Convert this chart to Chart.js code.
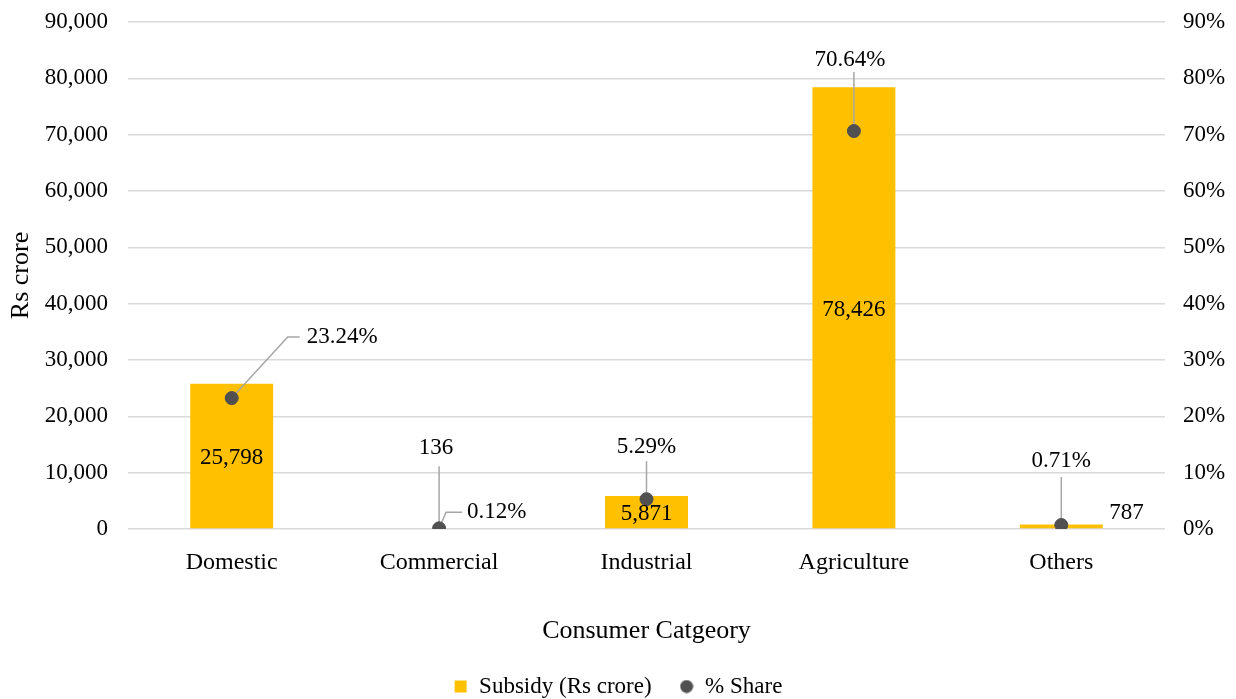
<!DOCTYPE html>
<html>
<head>
<meta charset="utf-8">
<script src="https://cdn.jsdelivr.net/npm/chart.js@4/dist/chart.umd.min.js"></script>
<style>
html,body{margin:0;padding:0;background:#fff;}
#wrap{width:1236px;height:699px;position:relative;}
</style>
</head>
<body>
<div id="wrap"><canvas id="c" width="1236" height="699"></canvas></div>
<script>
// ---- data ----
const categories = ['Domestic', 'Commercial', 'Industrial', 'Agriculture', 'Others'];
const subsidy = [25798, 136, 5871, 78426, 787];           // Rs crore
const share = [23.24, 0.12, 5.29, 70.64, 0.71];          // % share
const leftTicks = [0, 10000, 20000, 30000, 40000, 50000, 60000, 70000, 80000, 90000];
const rightTicks = [0, 10, 20, 30, 40, 50, 60, 70, 80, 90];

const FONT = "'Liberation Serif', 'DejaVu Serif', serif";
const BAR_COLOR = '#FFC000';
const PT_COLOR = '#505050';
const fmtInt = v => v.toLocaleString('en-US');
const fmtPct = v => v.toFixed(2) + '%';

// label placement (pixel offsets relative to each mark)
const barLabelLayout = [
  {mode: 'center'},
  {mode: 'offset', dx: -3, dy: -80, align: 'center', leader: [[0, -62], [0, 0]]},
  {mode: 'center'},
  {mode: 'center'},
  {mode: 'offset', dx: 48, dy: -12, align: 'left'}
];
const pointLabelLayout = [
  {dx: 75, dy: -61, align: 'left', leader: [[0, 0], [56, -61], [68, -61]]},
  {dx: 28, dy: -16, align: 'left', leader: [[0, 0], [7, -16], [23, -16]]},
  {dx: 0, dy: -52, align: 'center', leader: [[0, 0], [0, -38]]},
  {dx: -4, dy: -71, align: 'center', leader: [[0, 0], [0, -59]]},
  {dx: 0, dy: -64, align: 'center', leader: [[0, 0], [0, -48]]}
];

function legendMarker(kind, color) {
  const c = document.createElement('canvas');
  c.width = 14; c.height = 14;
  const g = c.getContext('2d');
  g.fillStyle = color;
  if (kind === 'rect') { g.fillRect(1, 1, 12, 12); }
  else { g.beginPath(); g.arc(7, 7, 6.5, 0, Math.PI * 2); g.fill(); }
  return c;
}
const legendMarkers = [legendMarker('rect', BAR_COLOR), legendMarker('circle', PT_COLOR)];

// keep the legend box compact vertically while keeping wide horizontal spacing
const legendHeightPlugin = {
  id: 'legendHeight',
  beforeLayout(chart) {
    const lg = chart.legend;
    if (lg && !lg._patched) {
      const orig = lg.fit;
      lg.fit = function () { orig.call(this); this.height = 52; };
      lg._patched = true;
    }
  }
};

const labelPlugin = {
  id: 'customLabels',
  afterDatasetDraw(chart, args) {
    if (args.index !== 0) return;
    const ctx = chart.ctx;
    ctx.save();
    ctx.strokeStyle = '#a6a6a6';
    ctx.lineWidth = 1.5;
    const drawLeader = (el, L) => {
      if (!L.leader) return;
      ctx.beginPath();
      L.leader.forEach((p, k) => {
        const x = el.x + p[0], y = el.y + p[1];
        k ? ctx.lineTo(x, y) : ctx.moveTo(x, y);
      });
      ctx.stroke();
    };
    chart.getDatasetMeta(0).data.forEach((el, i) => drawLeader(el, barLabelLayout[i]));
    chart.getDatasetMeta(1).data.forEach((el, i) => drawLeader(el, pointLabelLayout[i]));
    ctx.restore();
  },
  afterDatasetsDraw(chart) {
    const ctx = chart.ctx;
    ctx.save();
    ctx.fillStyle = '#000';
    ctx.font = "23px " + FONT;
    ctx.textBaseline = 'middle';
    chart.getDatasetMeta(0).data.forEach((el, i) => {
      const L = barLabelLayout[i];
      const txt = fmtInt(subsidy[i]);
      if (L.mode === 'center') {
        ctx.textAlign = 'center';
        ctx.fillText(txt, el.x, (el.y + el.base) / 2 + 2);
      } else {
        ctx.textAlign = L.align;
        ctx.fillText(txt, el.x + L.dx, el.y + L.dy);
      }
    });
    chart.getDatasetMeta(1).data.forEach((el, i) => {
      const L = pointLabelLayout[i];
      ctx.textAlign = L.align;
      ctx.fillText(fmtPct(share[i]), el.x + L.dx, el.y + L.dy);
    });
    ctx.restore();
  }
};

Chart.defaults.font.family = FONT;
Chart.defaults.color = '#000';

const noVPad = s => { s.paddingTop = 0; s.paddingBottom = 0; };

new Chart(document.getElementById('c'), {
  data: {
    labels: categories,
    datasets: [
      {
        type: 'bar',
        label: 'Subsidy (Rs crore)',
        data: subsidy,
        backgroundColor: BAR_COLOR,
        yAxisID: 'y',
        order: 1,
        barPercentage: 0.8,
        categoryPercentage: 0.5
      },
      {
        type: 'line',
        label: '% Share',
        data: share,
        yAxisID: 'y1',
        showLine: false,
        backgroundColor: PT_COLOR,
        borderColor: PT_COLOR,
        pointRadius: 6.5,
        pointHoverRadius: 6.5,
        pointStyle: 'circle',
        order: 0
      }
    ]
  },
  options: {
    responsive: false,
    animation: false,
    layout: {padding: {top: 22, left: 0, right: 0, bottom: 0}},
    plugins: {
      tooltip: {enabled: false},
      legend: {
        position: 'bottom',
        labels: {
          usePointStyle: true,
          boxWidth: 14,
          boxHeight: 14,
          font: {size: 23, family: FONT},
          color: '#000',
          padding: 28,
          generateLabels: chart => {
            const items = Chart.defaults.plugins.legend.labels.generateLabels(chart);
            items.sort((a, b) => a.datasetIndex - b.datasetIndex);
            items.forEach(it => { it.pointStyle = legendMarkers[it.datasetIndex]; });
            return items;
          }
        }
      }
    },
    scales: {
      x: {
        grid: {display: false, drawTicks: false},
        border: {display: false},
        ticks: {font: {size: 24}, color: '#000', padding: 19},
        title: {display: true, text: 'Consumer Catgeory', font: {size: 26}, color: '#000', padding: {top: 0, bottom: 0}},
        afterFit: s => { s.height = 118; }
      },
      y: {
        position: 'left',
        min: 0, max: 90000,
        afterBuildTicks: s => { s.ticks = leftTicks.map(v => ({value: v})); },
        ticks: {font: {size: 23}, color: '#000', padding: 20, callback: v => fmtInt(v)},
        grid: {color: '#d9d9d9', lineWidth: 1.5, drawTicks: false},
        border: {display: false},
        title: {display: true, text: 'Rs crore', font: {size: 26}, color: '#000', padding: {top: 6, bottom: 0}},
        afterFit: s => { s.width = 128; noVPad(s); }
      },
      y1: {
        position: 'right',
        min: 0, max: 90,
        afterBuildTicks: s => { s.ticks = rightTicks.map(v => ({value: v})); },
        ticks: {font: {size: 23}, color: '#000', padding: 18, callback: v => v + '%'},
        grid: {display: false, drawTicks: false},
        border: {display: false},
        afterFit: s => { s.width = 71; noVPad(s); }
      }
    }
  },
  plugins: [legendHeightPlugin, labelPlugin]
});
</script>
</body>
</html>
